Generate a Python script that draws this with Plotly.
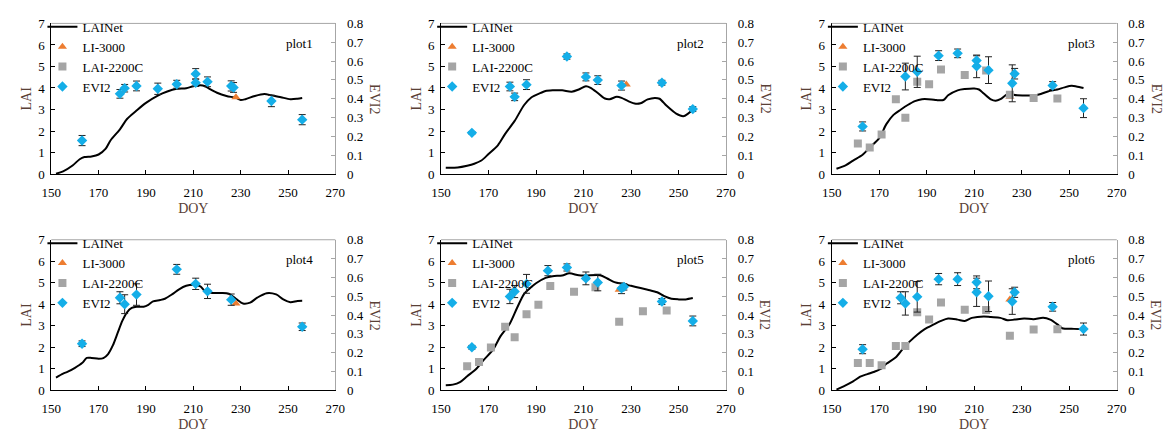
import plotly.graph_objects as go

# ---- plot1 ----
p1_net_doy = [152, 155, 159, 162, 164, 167, 170, 173, 175, 179, 182, 186, 190, 195, 199, 203, 207,
              210, 213, 215, 217, 220, 224, 228, 230, 232, 236, 240, 243, 247, 251, 254, 256]
p1_net_lai = [0.02, 0.13, 0.40, 0.69, 0.79, 0.82, 0.91, 1.18, 1.56, 2.08, 2.56, 2.95, 3.31, 3.65, 3.84,
              3.96, 3.99, 4.08, 4.13, 4.08, 3.95, 3.78, 3.63, 3.54, 3.44, 3.48, 3.63, 3.72, 3.66, 3.57,
              3.48, 3.50, 3.53]
p1_li_doy = [228]
p1_li_lai = [3.57]
p1_c_doy = []
p1_c_lai = []
p1_evi_doy = [163, 179, 181, 186, 195, 203, 211, 211, 216, 226, 227, 243, 256]
p1_evi = [0.178, 0.426, 0.456, 0.468, 0.453, 0.477, 0.532, 0.485, 0.490, 0.468, 0.460, 0.388, 0.289]
p1_err = [0.027, 0.023, 0.020, 0.026, 0.030, 0.021, 0.028, 0.020, 0.026, 0.027, 0.026, 0.030, 0.027]

# ---- plot2 ----
p2_net_doy = [152, 157, 161, 164, 167, 170, 174, 177, 181, 185, 188, 192, 194, 197, 201, 205, 208, 211,
              213, 216, 219, 221, 224, 226, 229, 232, 234, 237, 240, 242, 245, 249, 252, 254, 256]
p2_net_lai = [0.30, 0.31, 0.39, 0.48, 0.63, 0.93, 1.35, 1.87, 2.47, 3.21, 3.56, 3.77, 3.86, 3.89, 3.89,
              3.83, 3.93, 4.08, 4.01, 3.77, 3.51, 3.48, 3.59, 3.54, 3.38, 3.27, 3.29, 3.47, 3.54, 3.50,
              3.17, 2.81, 2.69, 2.81, 2.99]
p2_li_doy = [228]
p2_li_lai = [4.16]
p2_c_doy = []
p2_c_lai = []
p2_evi_doy = [163, 179, 181, 186, 203, 211, 216, 226, 243, 256]
p2_evi = [0.219, 0.465, 0.410, 0.475, 0.624, 0.516, 0.499, 0.470, 0.485, 0.345]
p2_err = [0.006, 0.023, 0.020, 0.026, 0.014, 0.021, 0.023, 0.024, 0.013, 0.013]

# ---- plot3 ----
p3_net_doy = [152, 156, 159, 163, 166, 170, 173, 176, 179, 182, 185, 188, 192, 194, 197, 199, 203, 206,
              210, 212, 214, 217, 219, 221, 224, 228, 232, 235, 238, 241, 245, 248, 251, 253, 256]
p3_net_lai = [0.25, 0.42, 0.63, 0.90, 1.23, 1.67, 2.32, 2.75, 2.99, 3.21, 3.39, 3.48, 3.47, 3.44, 3.44,
              3.66, 3.89, 3.95, 3.98, 3.93, 3.74, 3.47, 3.41, 3.48, 3.71, 3.66, 3.65, 3.65, 3.72, 3.84,
              3.93, 4.03, 4.10, 4.07, 4.00]
p3_li_doy = [225]
p3_li_lai = [3.59]
p3_c_doy = [161, 166, 171, 177, 181, 186, 191, 196, 206, 215, 225, 235, 245]
p3_c_lai = [1.42, 1.23, 1.84, 3.48, 2.62, 4.29, 4.17, 4.86, 4.60, 4.81, 3.69, 3.54, 3.51]
p3_evi_doy = [163, 181, 186, 195, 203, 211, 211, 216, 226, 227, 243, 256]
p3_evi = [0.253, 0.518, 0.543, 0.629, 0.641, 0.603, 0.572, 0.552, 0.482, 0.533, 0.470, 0.350]
p3_err = [0.024, 0.071, 0.083, 0.026, 0.023, 0.025, 0.060, 0.071, 0.098, 0.028, 0.021, 0.050]

# ---- plot4 ----
p4_net_doy = [152, 155, 157, 160, 163, 165, 167, 170, 172, 174, 176, 178, 180, 182, 184, 186, 189, 191,
              193, 196, 198, 201, 204, 207, 210, 213, 215, 218, 222, 225, 228, 231, 234, 237, 241, 245,
              248, 251, 254, 256]
p4_net_lai = [0.60, 0.78, 0.87, 1.05, 1.27, 1.51, 1.51, 1.47, 1.50, 1.69, 2.09, 2.66, 3.23, 3.63, 3.83,
              3.89, 3.89, 3.98, 4.14, 4.20, 4.26, 4.46, 4.70, 4.86, 4.91, 4.83, 4.61, 4.53, 4.53, 4.49,
              4.26, 4.04, 4.08, 4.31, 4.52, 4.46, 4.23, 4.10, 4.16, 4.17]
p4_li_doy = [228]
p4_li_lai = [4.04]
p4_c_doy = []
p4_c_lai = []
p4_evi_doy = [163, 179, 181, 186, 203, 211, 216, 226, 256]
p4_evi = [0.248, 0.492, 0.458, 0.509, 0.643, 0.566, 0.526, 0.482, 0.338]
p4_err = [0.015, 0.032, 0.050, 0.057, 0.026, 0.030, 0.038, 0.030, 0.020]

# ---- plot5 ----
p5_net_doy = [152, 155, 158, 161, 165, 168, 172, 175, 179, 182, 185, 188, 190, 194, 197, 201, 204, 208,
              211, 217, 220, 223, 227, 230, 234, 237, 241, 244, 247, 250, 253, 256]
p5_net_lai = [0.24, 0.27, 0.39, 0.66, 1.02, 1.42, 1.91, 2.51, 3.11, 3.83, 4.49, 4.80, 4.98, 5.23, 5.31,
              5.34, 5.44, 5.35, 5.34, 5.35, 5.20, 5.03, 4.94, 4.86, 4.76, 4.68, 4.56, 4.38, 4.26, 4.23,
              4.23, 4.29]
p5_li_doy = [225]
p5_li_lai = [4.68]
p5_c_doy = [161, 166, 171, 177, 181, 186, 191, 196, 206, 215, 225, 235, 245]
p5_c_lai = [1.12, 1.32, 1.99, 2.96, 2.47, 3.54, 3.98, 4.85, 4.58, 4.79, 3.19, 3.68, 3.71]
p5_evi_doy = [163, 179, 181, 186, 195, 203, 211, 216, 226, 227, 243, 256]
p5_evi = [0.229, 0.499, 0.525, 0.566, 0.636, 0.653, 0.595, 0.573, 0.542, 0.550, 0.472, 0.369]
p5_err = [0.010, 0.038, 0.032, 0.050, 0.027, 0.019, 0.034, 0.044, 0.028, 0.017, 0.016, 0.026]

# ---- plot6 ----
p6_net_doy = [152, 155, 159, 162, 165, 168, 171, 173, 177, 180, 183, 186, 189, 193, 196, 199, 203, 206,
              209, 214, 217, 221, 224, 227, 231, 235, 239, 242, 245, 247, 252, 256]
p6_net_lai = [0.04, 0.19, 0.42, 0.64, 0.76, 0.87, 1.02, 1.24, 1.54, 1.94, 2.29, 2.59, 2.84, 3.07, 3.23,
              3.34, 3.29, 3.23, 3.37, 3.44, 3.41, 3.37, 3.26, 3.29, 3.34, 3.31, 3.38, 3.29, 3.07, 2.89,
              2.86, 2.84]
p6_li_doy = [225]
p6_li_lai = [4.23]
p6_c_doy = [161, 166, 171, 177, 181, 186, 191, 196, 206, 215, 225, 235, 245]
p6_c_lai = [1.27, 1.27, 1.17, 2.06, 2.06, 3.63, 3.29, 4.08, 3.75, 3.74, 2.54, 2.83, 2.84]
p6_evi_doy = [163, 179, 181, 186, 195, 203, 211, 211, 216, 226, 227, 243, 256]
p6_evi = [0.219, 0.492, 0.462, 0.497, 0.591, 0.591, 0.574, 0.521, 0.500, 0.472, 0.521, 0.444, 0.326]
p6_err = [0.024, 0.032, 0.062, 0.081, 0.030, 0.034, 0.034, 0.075, 0.081, 0.068, 0.027, 0.023, 0.032]

panel_names = ["plot1", "plot2", "plot3", "plot4", "plot5", "plot6"]
panels = [
    (p1_net_doy, p1_net_lai, p1_li_doy, p1_li_lai, p1_c_doy, p1_c_lai, p1_evi_doy, p1_evi, p1_err),
    (p2_net_doy, p2_net_lai, p2_li_doy, p2_li_lai, p2_c_doy, p2_c_lai, p2_evi_doy, p2_evi, p2_err),
    (p3_net_doy, p3_net_lai, p3_li_doy, p3_li_lai, p3_c_doy, p3_c_lai, p3_evi_doy, p3_evi, p3_err),
    (p4_net_doy, p4_net_lai, p4_li_doy, p4_li_lai, p4_c_doy, p4_c_lai, p4_evi_doy, p4_evi, p4_err),
    (p5_net_doy, p5_net_lai, p5_li_doy, p5_li_lai, p5_c_doy, p5_c_lai, p5_evi_doy, p5_evi, p5_err),
    (p6_net_doy, p6_net_lai, p6_li_doy, p6_li_lai, p6_c_doy, p6_c_lai, p6_evi_doy, p6_evi, p6_err),
]

W, H = 1171, 439
FONT = "Liberation Serif, Times New Roman, serif"
TITLE_COLOR = "#5a4036"
GRAY_AXIS = "#a6a6a6"
C_NET = "black"
C_LI = "#ed7d31"
C_C = "#a5a5a5"
C_EVI = "#14aee8"

col_px = [(42, 331), (438.5, 728.5), (836, 1126)]
row_px = [(17, 173), (241, 397)]

fig = go.Figure()
layout = dict(
    width=W, height=H, margin=dict(l=0, r=0, t=0, b=0),
    paper_bgcolor="white", plot_bgcolor="white",
    font=dict(family=FONT, size=13, color="black"),
    shapes=[], annotations=[],
)

for k, (net_doy, net_lai, li_doy, li_lai, c_doy, c_lai, evi_doy, evi, err) in enumerate(panels):
    r, c = divmod(k, 3)
    x0, x1 = col_px[c]
    top, bot = row_px[r]
    xdom = [x0 / W, x1 / W]
    ydom = [1 - bot / H, 1 - top / H]
    xa = "x" if k == 0 else f"x{k + 1}"
    ya = "y" if k == 0 else f"y{2 * k + 1}"
    yb = f"y{2 * k + 2}"
    leg = "legend" if k == 0 else f"legend{k + 1}"

    fig.add_trace(go.Scatter(
        x=net_doy, y=net_lai, mode="lines", name="LAINet",
        line=dict(color=C_NET, width=2, shape="spline", smoothing=0.8),
        xaxis=xa, yaxis=ya, legend=leg))
    fig.add_trace(go.Scatter(
        x=li_doy, y=li_lai, mode="markers", name="LI-3000",
        marker=dict(symbol="triangle-up", size=8, color=C_LI),
        xaxis=xa, yaxis=ya, legend=leg))
    # a plot without LAI-2200C readings still lists the series in its legend
    fig.add_trace(go.Scatter(
        x=c_doy if c_doy else [None], y=c_lai if c_lai else [None],
        mode="markers", name="LAI-2200C",
        marker=dict(symbol="square", size=8, color=C_C),
        xaxis=xa, yaxis=ya, legend=leg))
    # error bars for EVI2, drawn beneath the markers
    fig.add_trace(go.Scatter(
        x=evi_doy, y=evi, mode="markers", showlegend=False, hoverinfo="skip",
        marker=dict(size=1, color="rgba(0,0,0,0)"),
        error_y=dict(type="data", array=err, visible=True, color="#222222",
                     thickness=1, width=3.5),
        xaxis=xa, yaxis=yb))
    fig.add_trace(go.Scatter(
        x=evi_doy, y=evi, mode="markers", name="EVI2",
        marker=dict(symbol="diamond", size=8, color=C_EVI),
        xaxis=xa, yaxis=yb, legend=leg))

    layout["xaxis" if k == 0 else f"xaxis{k + 1}"] = dict(
        domain=xdom, anchor=ya, range=[150, 270], tick0=150, dtick=20,
        ticks="inside", ticklen=4, tickcolor="black", showline=True,
        linecolor="black", linewidth=1, showgrid=False, zeroline=False,
        tickfont=dict(size=13), ticklabelstandoff=6,
        title=dict(text="DOY", font=dict(size=14, color=TITLE_COLOR), standoff=4),
    )
    layout["yaxis" if k == 0 else f"yaxis{2 * k + 1}"] = dict(
        domain=ydom, anchor=xa, range=[0, 7], tick0=0, dtick=1,
        ticks="inside", ticklen=4, tickcolor="black", showline=True,
        linecolor="black", linewidth=1, showgrid=False, zeroline=False,
        tickfont=dict(size=13), ticklabelstandoff=3,
        title=dict(text="LAI", font=dict(size=14, color=TITLE_COLOR), standoff=3),
    )
    layout[f"yaxis{2 * k + 2}"] = dict(
        domain=ydom, anchor=xa, overlaying=ya, side="right", range=[0, 0.8],
        tick0=0, dtick=0.1, ticks="inside", ticklen=4, tickcolor=GRAY_AXIS,
        showline=True, linecolor=GRAY_AXIS, linewidth=1, showgrid=False,
        zeroline=False, tickfont=dict(size=13), ticklabelstandoff=8,
    )
    # frame top edge
    layout["shapes"].append(dict(
        type="line", xref=f"{xa} domain", yref=f"{ya} domain",
        x0=0, x1=1, y0=1, y1=1, line=dict(color=GRAY_AXIS, width=1)))
    # right-side axis title, reading top to bottom
    layout["annotations"].append(dict(
        text="EVI2", xref="paper", yref="paper", x=(x1 + 40) / W,
        y=(ydom[0] + ydom[1]) / 2, xanchor="center", yanchor="middle",
        textangle=90, showarrow=False, font=dict(size=14, color=TITLE_COLOR)))
    # panel name
    layout["annotations"].append(dict(
        text=panel_names[k], xref=f"{xa} domain", yref=f"{ya} domain",
        x=0.875, y=0.87, xanchor="center", yanchor="middle",
        showarrow=False, font=dict(size=13, color="black")))
    layout[leg] = dict(
        x=(x0 - 9) / W, y=1 - (top - 12) / H, xanchor="left", yanchor="top",
        bgcolor="rgba(0,0,0,0)", borderwidth=0, traceorder="normal",
        font=dict(size=13, color="black"), tracegroupgap=0,
        itemwidth=30,
    )

fig.update_layout(**layout)
fig.write_html("out.html")
